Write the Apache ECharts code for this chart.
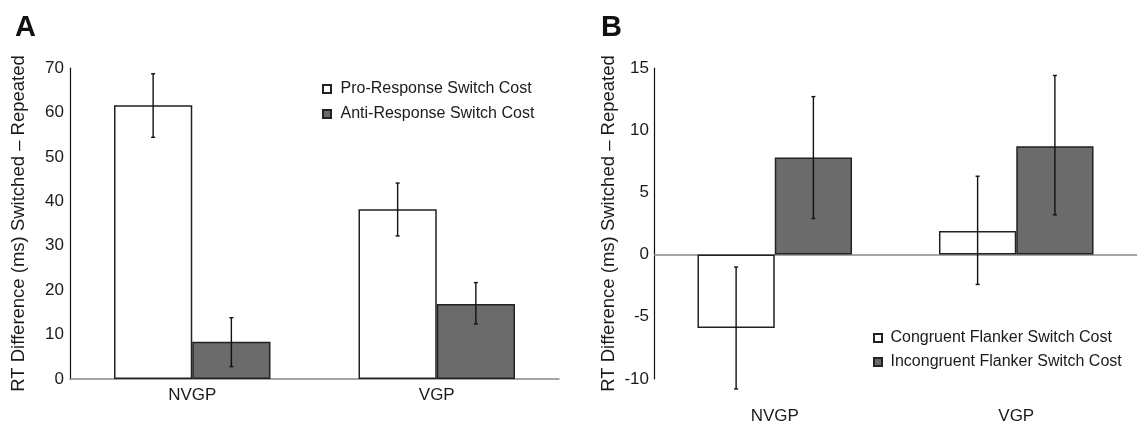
<!DOCTYPE html>
<html>
<head>
<meta charset="utf-8">
<script src="https://cdn.jsdelivr.net/npm/echarts@6/dist/echarts.min.js"></script>
<style>
html,body{margin:0;padding:0;background:#fff;}
#chart{width:1137px;height:429px;}
</style>
</head>
<body>
<div id="chart"></div>
<script>
// ---- Data ----
const categories = ['NVGP', 'VGP'];

// Panel A
const proMean = [61.6, 38.2];
const proLow  = [54.4, 32.2];
const proHigh = [68.7, 44.1];
const antiMean = [8.4, 16.9];
const antiLow  = [2.8, 12.4];
const antiHigh = [13.8, 21.7];

// Panel B
const congMean = [-5.9, 1.9];
const congLow  = [-10.8, -2.4];
const congHigh = [-1.0, 6.3];
const incongMean = [7.8, 8.7];
const incongLow  = [2.9, 3.2];
const incongHigh = [12.7, 14.4];

const seriesNamesA = ['Pro-Response Switch Cost', 'Anti-Response Switch Cost'];
const seriesNamesB = ['Congruent Flanker Switch Cost', 'Incongruent Flanker Switch Cost'];
const yTitle = 'RT Difference (ms) Switched \u2013 Repeated';

// ---- Styling ----
const FONT = "'Liberation Sans', Arial, Helvetica, sans-serif";
const TXT = '#1a1a1a';
const GAP = 0.36;
const WHITE = '#ffffff';
const GRAY = '#6b6b6b';
const EDGE = '#222222';

function errData(low, high) {
  return categories.map((c, i) => [i, low[i], high[i]]);
}
function errSeries(name, low, high, side, gi) {
  return {
    type: 'custom',
    name: name,
    xAxisIndex: gi, yAxisIndex: gi,
    clip: false,
    z: 10,
    silent: true,
    encode: { x: 0, y: [1, 2] },
    data: errData(low, high),
    renderItem: function (params, api) {
      const band = api.size([1, 0])[0];
      const barW = band * (1 - GAP) / 2;
      const p1 = api.coord([api.value(0), api.value(1)]);
      const p2 = api.coord([api.value(0), api.value(2)]);
      const x = p1[0] + side * barW / 2;
      const c = 2;
      const st = { stroke: '#111', lineWidth: 1.4 };
      return {
        type: 'group',
        children: [
          { type: 'line', shape: { x1: x, y1: p1[1], x2: x, y2: p2[1] }, style: st },
          { type: 'line', shape: { x1: x - c, y1: p1[1], x2: x + c, y2: p1[1] }, style: st },
          { type: 'line', shape: { x1: x - c, y1: p2[1], x2: x + c, y2: p2[1] }, style: st }
        ]
      };
    }
  };
}
function barSeries(name, data, color, gi, extra) {
  return Object.assign({
    type: 'bar',
    name: name,
    xAxisIndex: gi, yAxisIndex: gi,
    data: data,
    barGap: '0%',
    barCategoryGap: (GAP * 100) + '%',
    itemStyle: { color: color, borderColor: EDGE, borderWidth: 1.5 },
    emphasis: { disabled: true },
    animation: false
  }, extra || {});
}

const yAxisCommon = {
  type: 'value',
  name: yTitle,
  nameLocation: 'middle',
  nameRotate: 90,
  nameTextStyle: { fontFamily: FONT, fontSize: 18.5, color: TXT },
  axisLine: { show: true, lineStyle: { color: '#111', width: 1.2 } },
  axisTick: { show: false },
  splitLine: { show: false },
  axisLabel: { fontFamily: FONT, fontSize: 17, color: TXT }
};

const legendIcon = 'path://M0,0L10,0L10,10L0,10Z';

const option = {
  animation: false,
  backgroundColor: '#fff',
  title: [
    { text: 'A', left: 10, top: 8, textStyle: { fontFamily: FONT, fontSize: 29, fontWeight: 'bold', color: '#111' } },
    { text: 'B', left: 596, top: 8, textStyle: { fontFamily: FONT, fontSize: 29, fontWeight: 'bold', color: '#111' } }
  ],
  legend: [
    {
      data: seriesNamesA, orient: 'vertical', left: 317, top: 76,
      icon: legendIcon, itemWidth: 17, itemHeight: 8, itemGap: 9,
      selectedMode: false,
      textStyle: { fontFamily: FONT, fontSize: 16, color: TXT, lineHeight: 16 }
    },
    {
      data: seriesNamesB, orient: 'vertical', left: 868, top: 325,
      icon: legendIcon, itemWidth: 15, itemHeight: 8, itemGap: 8,
      selectedMode: false,
      textStyle: { fontFamily: FONT, fontSize: 16, color: TXT, lineHeight: 16 }
    }
  ],
  grid: [
    { left: 70, top: 68, right: 578, bottom: 50 },
    { left: 654, top: 68, right: -6, bottom: 50 }
  ],
  xAxis: [
    {
      gridIndex: 0, type: 'category', data: categories,
      axisLine: { show: true, lineStyle: { color: '#888', width: 1.5 } },
      axisTick: { show: false },
      axisLabel: { fontFamily: FONT, fontSize: 17, color: TXT, margin: 8 }
    },
    {
      gridIndex: 1, type: 'category', data: categories,
      axisLine: { show: false },
      axisTick: { show: false },
      axisLabel: { fontFamily: FONT, fontSize: 17, color: TXT, margin: 29 }
    }
  ],
  yAxis: [
    Object.assign({}, yAxisCommon, { gridIndex: 0, min: 0, max: 70, interval: 10, nameGap: 42,
      axisLabel: Object.assign({}, yAxisCommon.axisLabel, { margin: 6 }) }),
    Object.assign({}, yAxisCommon, { gridIndex: 1, min: -10, max: 15, interval: 5, nameGap: 36,
      axisLabel: Object.assign({}, yAxisCommon.axisLabel, { margin: 5 }) })
  ],
  series: [
    barSeries(seriesNamesA[0], proMean, WHITE, 0),
    barSeries(seriesNamesA[1], antiMean, GRAY, 0),
    barSeries(seriesNamesB[0], congMean, WHITE, 1, {
      markLine: {
        silent: true, symbol: 'none', label: { show: false },
        lineStyle: { color: '#888', width: 1.5, type: 'solid' },
        data: [{ yAxis: 0 }],
        z: 1
      }
    }),
    barSeries(seriesNamesB[1], incongMean, GRAY, 1),
    errSeries('errA0', proLow, proHigh, -1, 0),
    errSeries('errA1', antiLow, antiHigh, 1, 0),
    errSeries('errB0', congLow, congHigh, -1, 1),
    errSeries('errB1', incongLow, incongHigh, 1, 1)
  ]
};

const chart = echarts.init(document.getElementById('chart'), null, { renderer: 'canvas' });
chart.setOption(option);
</script>
</body>
</html>
